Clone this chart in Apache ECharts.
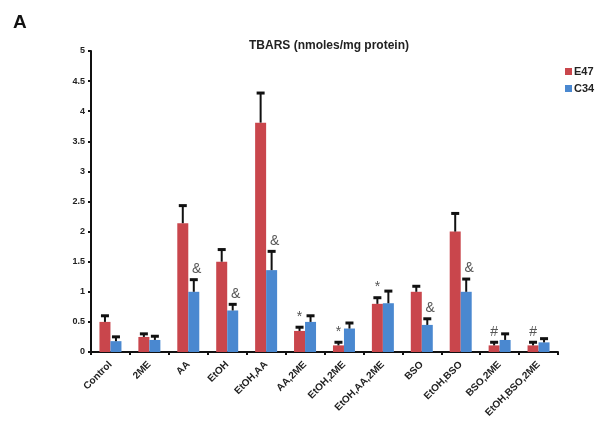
<!DOCTYPE html>
<html>
<head>
<meta charset="utf-8">
<script src="https://cdn.jsdelivr.net/npm/echarts@6/dist/echarts.min.js"></script>
<style>html,body{margin:0;padding:0;background:#fff}#c{width:602px;height:429px}</style>
</head>
<body>
<div id="c"></div>
<script>
const categories = ['Control','2ME','AA','EtOH','EtOH,AA','AA,2ME','EtOH,2ME','EtOH,AA,2ME','BSO','EtOH,BSO','BSO,2ME','EtOH,BSO,2ME'];
const e47 = [0.50, 0.25, 2.14, 1.50, 3.81, 0.35, 0.11, 0.80, 1.00, 2.00, 0.11, 0.11];
const e47Err = [0.11, 0.06, 0.30, 0.21, 0.50, 0.07, 0.06, 0.11, 0.10, 0.31, 0.06, 0.06];
const c34 = [0.18, 0.20, 1.00, 0.69, 1.36, 0.50, 0.39, 0.81, 0.45, 1.00, 0.20, 0.16];
const c34Err = [0.08, 0.07, 0.21, 0.11, 0.32, 0.11, 0.10, 0.21, 0.11, 0.22, 0.11, 0.07];
const e47Marks = ['', '', '', '', '', '*', '*', '*', '', '', '#', '#'];
const c34Marks = ['', '', '&', '&', '&', '', '', '', '&', '&', '', ''];
const yTicks = { min: 0, max: 5, interval: 0.5 };

const RED = '#c9464c', BLUE = '#4a88d0';
const BAR_W = 11;
const FONT = 'Arial, "Liberation Sans", sans-serif';

function errSeries(vals, errs, marks, offset, markDx) {
  const data = vals.map((v, i) => [i, v, v + errs[i], marks[i]]);
  return {
    type: 'custom',
    silent: true,
    z: 5,
    data: data,
    encode: { x: 0, y: [1, 2] },
    renderItem: function (params, api) {
      const i = api.value(0);
      const base = api.coord([i, api.value(1)]);
      const top = api.coord([i, api.value(2)]);
      const x = base[0] + offset;
      const children = [
        { type: 'line', shape: { x1: x, y1: base[1], x2: x, y2: top[1] }, style: { stroke: '#111', lineWidth: 2 } },
        { type: 'line', shape: { x1: x - 4, y1: top[1] + 0.5, x2: x + 4, y2: top[1] + 0.5 }, style: { stroke: '#111', lineWidth: 3 } }
      ];
      const mk = marks[i];
      if (mk) {
        children.push({
          type: 'text',
          style: {
            text: mk, x: x + markDx, y: top[1] - 3,
            align: 'center', verticalAlign: 'bottom',
            fill: '#555', font: '14px ' + FONT
          }
        });
      }
      return { type: 'group', children: children };
    }
  };
}

const chart = echarts.init(document.getElementById('c'));
chart.setOption({
  animation: false,
  backgroundColor: '#fff',
  title: [
    { text: 'TBARS (nmoles/mg protein)', left: 324, top: 35, textAlign: 'center',
      textStyle: { fontSize: 12, fontWeight: 'bold', color: '#222', fontFamily: FONT } },
    { text: 'A', left: 8, top: 8, textStyle: { fontSize: 19, fontWeight: 'bold', color: '#111', fontFamily: FONT } }
  ],
  legend: {
    orient: 'vertical', left: 560, top: 61, itemWidth: 7, itemHeight: 7, itemGap: 6,
    icon: 'rect', data: ['E47', 'C34'],
    textStyle: { fontSize: 11, fontWeight: 'bold', color: '#222', fontFamily: FONT, padding: [0, 0, 0, -3] }
  },
  grid: { left: 91, right: 44, top: 51, bottom: 77 },
  xAxis: {
    type: 'category', data: categories, boundaryGap: true,
    axisLine: { lineStyle: { color: '#111', width: 2 } },
    axisTick: { show: true, length: 3, lineStyle: { color: '#111', width: 2 } },
    axisLabel: { rotate: 45, interval: 0, fontSize: 10, fontWeight: 'bold', color: '#222', fontFamily: FONT, margin: 11 }
  },
  yAxis: {
    type: 'value', min: yTicks.min, max: yTicks.max, interval: yTicks.interval,
    splitLine: { show: false },
    axisLine: { show: true, lineStyle: { color: '#111', width: 2 } },
    axisTick: { show: true, length: 3, lineStyle: { color: '#111', width: 2 } },
    axisLabel: { fontSize: 9, fontWeight: 'bold', color: '#222', fontFamily: FONT, margin: 6 }
  },
  series: [
    { name: 'E47', type: 'bar', data: e47, barWidth: BAR_W, barGap: '0%', itemStyle: { color: RED } },
    { name: 'C34', type: 'bar', data: c34, barWidth: BAR_W, barGap: '0%', itemStyle: { color: BLUE } },
    errSeries(e47, e47Err, e47Marks, -BAR_W / 2, 0),
    errSeries(c34, c34Err, c34Marks, BAR_W / 2, 3)
  ]
});
</script>
</body>
</html>
